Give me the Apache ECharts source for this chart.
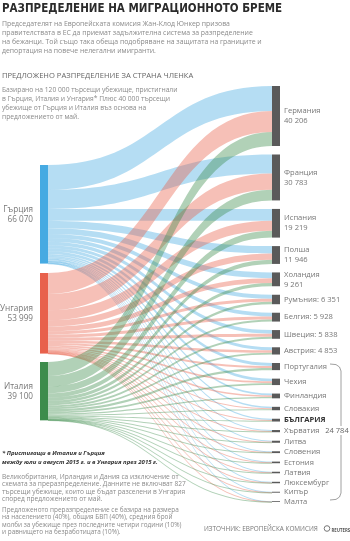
<!DOCTYPE html>
<html lang="bg">
<head>
<meta charset="UTF-8">
<script src="https://cdn.jsdelivr.net/npm/echarts@6/dist/echarts.min.js"></script>
<style>
    html, body { margin: 0; padding: 0; background: #fff; }
    #chart { width: 350px; height: 541px; }
</style>
</head>
<body>
<div id="chart"></div>
<script>
// източник: Европейска комисия (предложение май + септември 2015)
var sources = ['Гърция', 'Унгария', 'Италия'];
var sourceTotals = [66070, 53999, 39100];

var targets = ['Германия', 'Франция', 'Испания', 'Полша', 'Холандия', 'Румъния', 'Белгия', 'Швеция', 'Австрия',
    'Португалия', 'Чехия', 'Финландия', 'Словакия', 'БЪЛГАРИЯ', 'Хърватия', 'Литва', 'Словения',
    'Естония', 'Латвия', 'Люксембург', 'Кипър', 'Малта'];

// разпределение по страна-източник
var fromGreece = [16711, 12794, 7986, 4965, 3849, 2633, 2463, 2425, 2014,
    1967, 1778, 1317, 945, 774, 605, 565, 506, 452, 430, 406, 263, 222];
var fromHungary = [14149, 10814, 6719, 4179, 3246, 2091, 2054, 2011, 1638,
    1366, 1241, 912, 654, 536, 419, 392, 351, 313, 297, 281, 182, 154];
var fromItaly = [9346, 7175, 4514, 2802, 2166, 1627, 1411, 1402, 1201,
    1442, 1287, 961, 688, 564, 440, 412, 369, 329, 313, 297, 192, 162];

var smallTotal = 24784;

var sourceColors = ['#46aae2', '#e8614c', '#3d8c4c'];
var targetColor = '#5a5a5a';
var sourceTop = [165, 273, 362];   // px, left column position
var TOP = 86, HEIGHT = 416;

function fmt(n) {
    return String(n).replace(/\B(?=(\d{3})+(?!\d))/g, ' ');
}

var flows = [fromGreece, fromHungary, fromItaly];

var nodes = [];
sources.forEach(function (name, i) {
    nodes.push({
        name: name,
        itemStyle: { color: sourceColors[i] },
        localY: (sourceTop[i] - TOP) / HEIGHT,
        label: {
            position: 'left',
            distance: 7,
            fontSize: 8.2,
            formatter: name + '\n' + fmt(sourceTotals[i])
        }
    });
});
targets.forEach(function (name, j) {
    var total = fromGreece[j] + fromHungary[j] + fromItaly[j];
    var text = name;
    if (j < 5) text = name + '\n' + fmt(total);
    else if (j < 9) text = name + ': ' + fmt(total);
    var node = {
        name: name,
        itemStyle: { color: targetColor },
        label: { position: 'right', formatter: text }
    };
    if (name === 'БЪЛГАРИЯ') {
        node.label.fontWeight = 'bold';
        node.label.color = '#333';
    }
    nodes.push(node);
});

var links = [];
sources.forEach(function (s, i) {
    targets.forEach(function (t, j) {
        links.push({ source: s, target: t, value: flows[i][j] });
    });
});

var chart = echarts.init(document.getElementById('chart'));

var grayText = '#8a8a8a';
var bodyFont = '"Open Sans", "Noto Sans", sans-serif';

function txt(x, y, text, style) {
    var st = {
        text: text,
        x: x, y: y,
        fill: grayText,
        fontFamily: bodyFont,
        fontSize: 6.9,
        lineHeight: 9,
        verticalAlign: 'top'
    };
    for (var k in style) st[k] = style[k];
    return { type: 'text', silent: true, style: st };
}

var braceStyle = { fill: 'none', stroke: '#888', lineWidth: 0.8 };

var option = {
    backgroundColor: '#fff',
    animation: false,
    graphic: [
        txt(2, 2, 'РАЗПРЕДЕЛЕНИЕ НА МИГРАЦИОННОТО БРЕМЕ', {
            fill: '#2b2b2b', fontSize: 11.5, fontWeight: 'bold', lineHeight: 14,
            fontFamily: '"Liberation Sans Narrow", "DejaVu Sans Condensed", sans-serif'
        }),
        txt(2, 19.5, 'Председателят на Европейската комисия Жан-Клод Юнкер призова\n' +
            'правителствата в ЕС да приемат задължителна система за разпределение\n' +
            'на бежанци. Той също така обеща подобряване на защитата на границите и\n' +
            'депортация на повече нелегални имигранти.', {}),
        txt(2, 71, 'ПРЕДЛОЖЕНО РАЗПРЕДЕЛЕНИЕ ЗА СТРАНА ЧЛЕНКА', { fill: '#666', fontSize: 7.6 }),
        txt(2, 85.5, 'Базирано на 120 000 търсещи убежище, пристигнали\n' +
            'в Гърция, Италия и Унгария* Плюс 40 000 търсещи\n' +
            'убежище от Гърция и Италия въз основа на\n' +
            'предложението от май.', { fontSize: 6.7 }),
        txt(2, 448.5, '* Пристигащи в Италия и Гърция\nмежду юли и август 2015 г. и в Унгария през 2015 г.', {
            fill: '#333', fontSize: 6, fontStyle: 'italic', fontWeight: 'bold'
        }),
        txt(2, 473, 'Великобритания, Ирландия и Дания са изключение от\n' +
            'схемата за преразпределение. Данните не включват 827\n' +
            'търсещи убежище, които ще бъдат разселени в Унгария\n' +
            'според предложението от май.', { fontSize: 6.6, lineHeight: 7.5 }),
        txt(2, 506, 'Предложеното преразпределение се базира на размера\n' +
            'на населението (40%), общия БВП (40%), средния брой\n' +
            'молби за убежище през последните четири години (10%)\n' +
            'и равнището на безработицата (10%).', { fontSize: 6.4, lineHeight: 7.5 }),
        txt(204, 525, 'ИЗТОЧНИК: ЕВРОПЕЙСКА КОМИСИЯ', { fontSize: 6.4, fill: '#777' }),
        { type: 'circle', silent: true, shape: { cx: 327, cy: 528.5, r: 2.8 },
          style: { fill: 'none', stroke: '#777', lineWidth: 1 } },
        txt(331.5, 526.5, 'REUTERS', { fontSize: 4.3, fontWeight: 'bold', fill: '#555' }),
        // скоба за малките държави
        { type: 'polyline', silent: true,
          shape: { points: [[330, 364], [336, 364.6], [339.5, 367], [341, 371], [341, 426]] },
          style: braceStyle },
        { type: 'polyline', silent: true,
          shape: { points: [[341, 435], [341, 493], [339.5, 497], [336, 499.4], [330, 500]] },
          style: braceStyle },
        txt(337, 426, fmt(smallTotal), { fontSize: 7.5, fill: '#666', align: 'center' })
    ],
    series: [{
        type: 'sankey',
        left: 40,
        right: 70,
        top: TOP,
        height: HEIGHT,
        nodeWidth: 8,
        nodeGap: 8.5,
        layoutIterations: 0,
        draggable: false,
        emphasis: { disabled: true },
        lineStyle: { color: 'source', opacity: 0.4, curveness: 0.5 },
        label: {
            color: '#777',
            fontSize: 7.6,
            lineHeight: 10,
            fontFamily: bodyFont,
            distance: 4
        },
        data: nodes,
        links: links
    }]
};

chart.setOption(option);
</script>
</body>
</html>
